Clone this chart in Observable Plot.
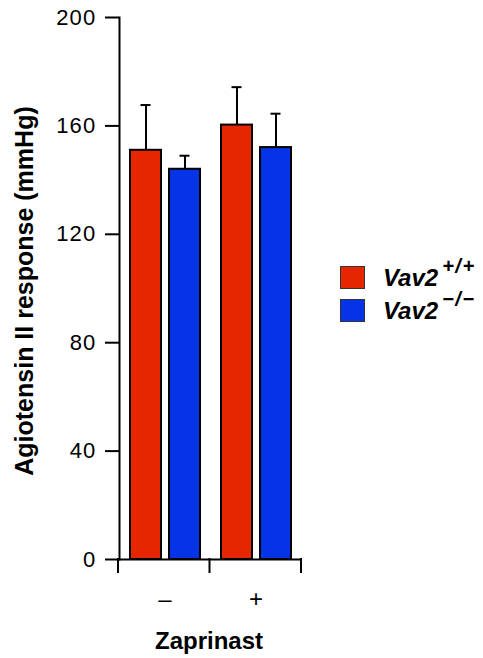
<!DOCTYPE html>
<html><head><meta charset="utf-8">
<script src="https://cdn.jsdelivr.net/npm/d3@7"></script>
<script src="https://cdn.jsdelivr.net/npm/@observablehq/plot@0.6"></script>
<style>
body{margin:0;background:#fff;font-family:"Liberation Sans",Arial,Helvetica,sans-serif;}
#wrap{position:relative;width:483px;height:658px;overflow:hidden;}
#wrap svg{position:absolute;left:0;top:0;}
#wrap svg path,#wrap svg line{stroke-width:2px;}
#wrap svg text{font-size:22px;}
#wrap svg [aria-label="fx-axis tick label"] text{font-size:24px;}
#wrap svg [aria-label="y-axis tick label"] text{letter-spacing:1.2px;}
.ytitle{position:absolute;left:-176px;top:277px;width:400px;text-align:center;font-weight:bold;font-size:25px;line-height:28px;transform:rotate(-90deg);}
.xtitle{position:absolute;left:109px;top:627px;width:200px;text-align:center;font-weight:bold;font-size:24px;line-height:28px;}
.legend{position:absolute;left:340px;top:261px;}
.row{display:flex;align-items:center;height:33px;}
.sw{width:23px;height:21px;border:1.5px solid #333;margin-right:18px;}
.lab{font-weight:bold;font-style:italic;font-size:24px;line-height:24px;}
.lab sup{font-size:20px;letter-spacing:1.5px;position:relative;top:-4px;vertical-align:super;line-height:0;margin-left:4px;}
</style></head><body><div id="wrap"></div>
<script>
const zaprinast = ["–", "+"];
const genotypes = ["+/+", "−/−"];
const barZaprinast = ["–", "–", "+", "+"];
const barGenotype = ["+/+", "−/−", "+/+", "−/−"];
const response = [151, 144, 160.3, 152];
const sem = [16.7, 5, 14, 12.5];
const yTicks = [0, 40, 80, 120, 160, 200];
const colors = ["#e62600", "#0533e6"];
const yTitle = "Agiotensin II response (mmHg)";
const xTitle = "Zaprinast";

const data = response.map((v, i) => ({z: barZaprinast[i], g: barGenotype[i], v, hi: v + sem[i]}));

const chart = Plot.plot({
  width: 483, height: 658,
  marginLeft: 118, marginRight: 182, marginTop: 17, marginBottom: 99,
  style: {fontFamily: '"Liberation Sans", Arial, sans-serif', fontSize: "22px", color: "#000", background: "transparent", overflow: "visible"},
  fx: {domain: zaprinast, padding: 0, label: null, axis: "bottom", tickSize: 0, tickPadding: 30},
  x: {domain: genotypes, paddingInner: 0.21, paddingOuter: 0.25, axis: null},
  y: {domain: [0, 200], ticks: yTicks, tickSize: 14, tickPadding: 9, label: null, line: true},
  color: {domain: genotypes, range: colors},
  marks: [
    Plot.ruleX(data, {fx: "z", x: "g", y1: "v", y2: "hi", stroke: "#000", strokeWidth: 2}),
    Plot.tickY(data, {fx: "z", x: "g", y: "hi", stroke: "#000", strokeWidth: 2, insetLeft: 10.5, insetRight: 10.5}),
    Plot.barY(data, {fx: "z", x: "g", y: "v", fill: "g", stroke: "#000", strokeWidth: 2}),
    Plot.ruleY([0], {stroke: "#000", strokeWidth: 2})
  ]
});

// boundary ticks of the x axis, placed from Plot's own fx and y scales
(function () {
  const fxs = chart.scale("fx");
  const ys = chart.scale("y");
  const yApply = ys.apply ? ys.apply : Plot.scale({y: ys}).apply;
  const y0 = yApply(0);
  const band = d3.scaleBand(fxs.domain, fxs.range).padding(0);
  const edges = fxs.domain.map(d => band(d)).concat([band(fxs.domain[fxs.domain.length - 1]) + band.bandwidth()]);
  const svg = d3.select(chart);
  svg.append("g").attr("stroke", "#000").selectAll("line").data(edges).join("line")
    .attr("x1", d => d).attr("x2", d => d).attr("y1", y0 - 1).attr("y2", y0 + 14);
})();

const wrap = document.getElementById("wrap");
wrap.appendChild(chart);

const yt = document.createElement("div"); yt.className = "ytitle"; yt.textContent = yTitle; wrap.appendChild(yt);
const xt = document.createElement("div"); xt.className = "xtitle"; xt.textContent = xTitle; wrap.appendChild(xt);

const lg = document.createElement("div"); lg.className = "legend";
genotypes.forEach((g, i) => {
  const r = document.createElement("div"); r.className = "row";
  const s = document.createElement("div"); s.className = "sw"; s.style.background = colors[i];
  const l = document.createElement("div"); l.className = "lab";
  l.append("Vav2");
  const sp = document.createElement("sup"); sp.textContent = g; l.appendChild(sp);
  r.appendChild(s); r.appendChild(l); lg.appendChild(r);
});
wrap.appendChild(lg);
</script></body></html>
